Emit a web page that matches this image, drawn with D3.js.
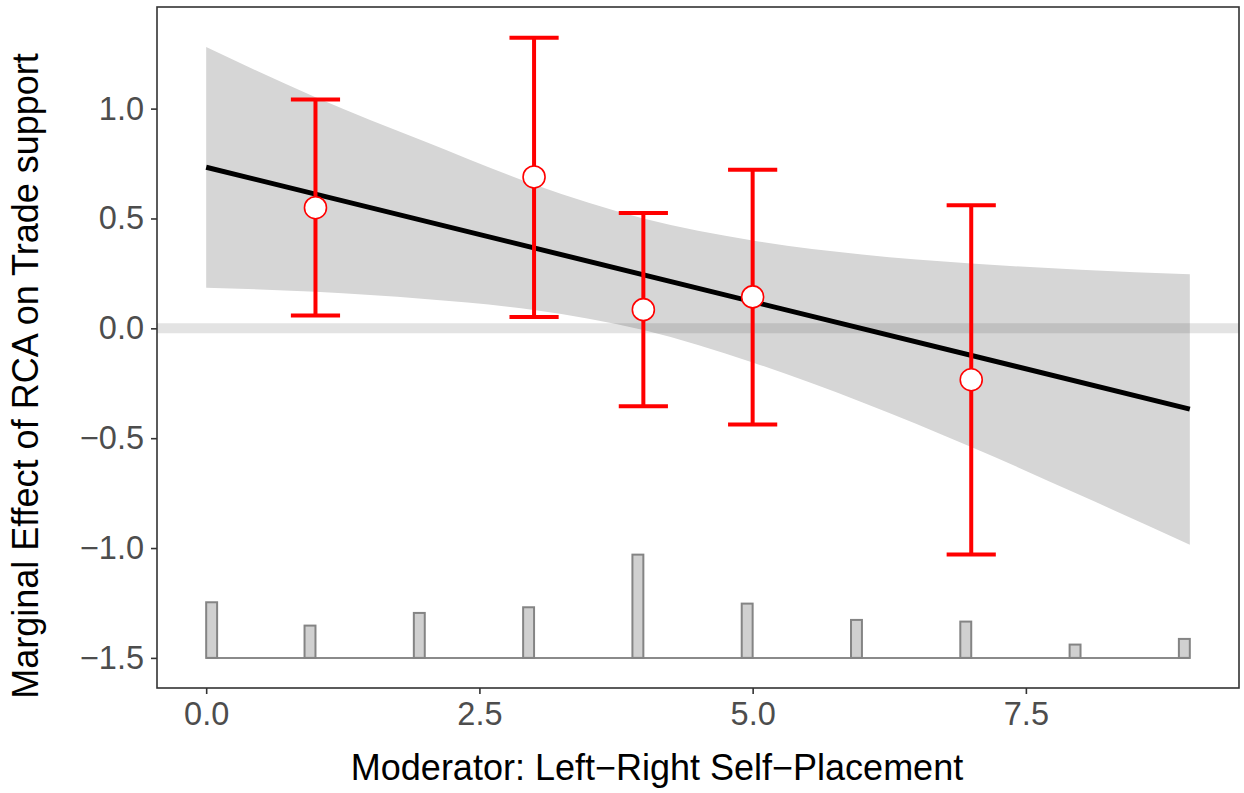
<!DOCTYPE html>
<html>
<head>
<meta charset="utf-8">
<script src="https://cdn.jsdelivr.net/npm/d3@7"></script>
<style>
  body { margin: 0; background: #fff; }
  svg text { font-family: "Liberation Sans", Arial, sans-serif; }
</style>
</head>
<body>
<div id="chart"></div>
<script>
// fitted marginal effect line
var lineX = [0, 9];
var lineY = [0.733, -0.368];

// confidence band
var bandX = [0, 1, 2, 3, 4, 5, 6, 7, 8, 9];
var bandUpper = [1.280, 1.052, 0.850, 0.655, 0.500, 0.400, 0.336, 0.295, 0.267, 0.246];
var bandLower = [0.185, 0.166, 0.133, 0.083, -0.008, -0.155, -0.336, -0.540, -0.760, -0.985];

// binned estimates
var binX = [1, 3, 4, 5, 7];
var binEst = [0.549, 0.689, 0.085, 0.143, -0.234];
var binLow = [0.058, 0.051, -0.355, -0.438, -1.029];
var binHigh = [1.042, 1.323, 0.525, 0.722, 0.560];

// distribution of the moderator
var histX = [0, 1, 2, 3, 4, 5, 6, 7, 8, 9];
var histCount = [167, 97, 135, 152, 310, 163, 114, 109, 40, 57];

var xTicks = [0, 2.5, 5, 7.5];
var yTicks = [-1.5, -1, -0.5, 0, 0.5, 1];

// set the dimensions and margins of the graph
var margin = {top: 7, right: 5, bottom: 105, left: 157},
    width = 1244 - margin.left - margin.right,
    height = 793 - margin.top - margin.bottom;

var svg = d3.select("#chart")
  .append("svg")
  .attr("width", 1244)
  .attr("height", 793)
  .append("g")
  .attr("transform", "translate(" + margin.left + "," + margin.top + ")");

var x = d3.scaleLinear().domain([-0.45, 9.45]).range([0, width]);
var y = d3.scaleLinear().domain([-1.637, 1.4625]).range([height, 0]);

// band
var band = bandX.map(function(v, i) { return {x: v, hi: bandUpper[i], lo: bandLower[i]}; });
svg.append("path")
  .datum(band)
  .attr("fill", "#d6d6d6")
  .attr("d", d3.area()
    .curve(d3.curveMonotoneX)
    .x(function(d) { return x(d.x); })
    .y0(function(d) { return y(d.lo); })
    .y1(function(d) { return y(d.hi); }));

// zero reference
svg.append("line")
  .attr("x1", 0).attr("x2", width)
  .attr("y1", y(0)).attr("y2", y(0))
  .attr("stroke", "#404040")
  .attr("stroke-opacity", 0.15)
  .attr("stroke-width", 10);

// histogram
var hy = d3.scaleLinear().domain([0, d3.max(histCount)]).range([y(-1.5), y(-1.03)]);
svg.append("line")
  .attr("x1", x(0)).attr("x2", x(9))
  .attr("y1", y(-1.5)).attr("y2", y(-1.5))
  .attr("stroke", "#8a8a8a")
  .attr("stroke-width", 2);
svg.selectAll(".hist")
  .data(histX)
  .enter()
  .append("rect")
  .attr("class", "hist")
  .attr("x", function(d) { return x(d === 0 ? 0 : d - 0.1); })
  .attr("width", x(0.1) - x(0))
  .attr("y", function(d, i) { return hy(histCount[i]); })
  .attr("height", function(d, i) { return hy(0) - hy(histCount[i]); })
  .attr("fill", "#d0d0d0")
  .attr("stroke", "#848484")
  .attr("stroke-width", 2);

// fitted line
svg.append("line")
  .attr("x1", x(lineX[0])).attr("x2", x(lineX[1]))
  .attr("y1", y(lineY[0])).attr("y2", y(lineY[1]))
  .attr("stroke", "#000")
  .attr("stroke-width", 5);

// error bars
var bins = binX.map(function(v, i) { return {x: v, est: binEst[i], lo: binLow[i], hi: binHigh[i]}; });
var capW = 0.225;
var eb = svg.selectAll(".eb").data(bins).enter().append("g").attr("class", "eb");
eb.append("line")
  .attr("x1", function(d) { return x(d.x); })
  .attr("x2", function(d) { return x(d.x); })
  .attr("y1", function(d) { return y(d.lo); })
  .attr("y2", function(d) { return y(d.hi); })
  .attr("stroke", "red").attr("stroke-width", 4);
eb.append("line")
  .attr("x1", function(d) { return x(d.x - capW); })
  .attr("x2", function(d) { return x(d.x + capW); })
  .attr("y1", function(d) { return y(d.hi); })
  .attr("y2", function(d) { return y(d.hi); })
  .attr("stroke", "red").attr("stroke-width", 4);
eb.append("line")
  .attr("x1", function(d) { return x(d.x - capW); })
  .attr("x2", function(d) { return x(d.x + capW); })
  .attr("y1", function(d) { return y(d.lo); })
  .attr("y2", function(d) { return y(d.lo); })
  .attr("stroke", "red").attr("stroke-width", 4);
eb.append("circle")
  .attr("cx", function(d) { return x(d.x); })
  .attr("cy", function(d) { return y(d.est); })
  .attr("r", 11)
  .attr("fill", "#fff")
  .attr("stroke", "red")
  .attr("stroke-width", 1.6);

// panel border
svg.append("rect")
  .attr("x", 0).attr("y", 0)
  .attr("width", width).attr("height", height)
  .attr("fill", "none")
  .attr("stroke", "#333")
  .attr("stroke-width", 1.6);

// axes
var fmt = d3.format(".1f");
var xAxis = svg.append("g")
  .attr("transform", "translate(0," + height + ")")
  .call(d3.axisBottom(x).tickValues(xTicks).tickFormat(fmt).tickSize(6).tickPadding(8));
var yAxis = svg.append("g")
  .call(d3.axisLeft(y).tickValues(yTicks).tickFormat(fmt).tickSize(6).tickPadding(7));
[xAxis, yAxis].forEach(function(a) {
  a.select(".domain").remove();
  a.selectAll(".tick line").attr("stroke", "#333").attr("stroke-width", 1.6);
  a.selectAll(".tick text")
    .attr("fill", "#4d4d4d")
    .style("font-size", "32.5px");
});

// axis titles
svg.append("text")
  .attr("x", 657 - margin.left)
  .attr("y", height + 92)
  .attr("text-anchor", "middle")
  .style("font-size", "36px")
  .text("Moderator: Left\u2212Right Self\u2212Placement");

svg.append("text")
  .attr("transform", "translate(" + (-119) + "," + (376 - margin.top) + ")rotate(-90)")
  .attr("text-anchor", "middle")
  .style("font-size", "36px")
  .text("Marginal Effect of RCA on Trade support");
</script>
</body>
</html>
